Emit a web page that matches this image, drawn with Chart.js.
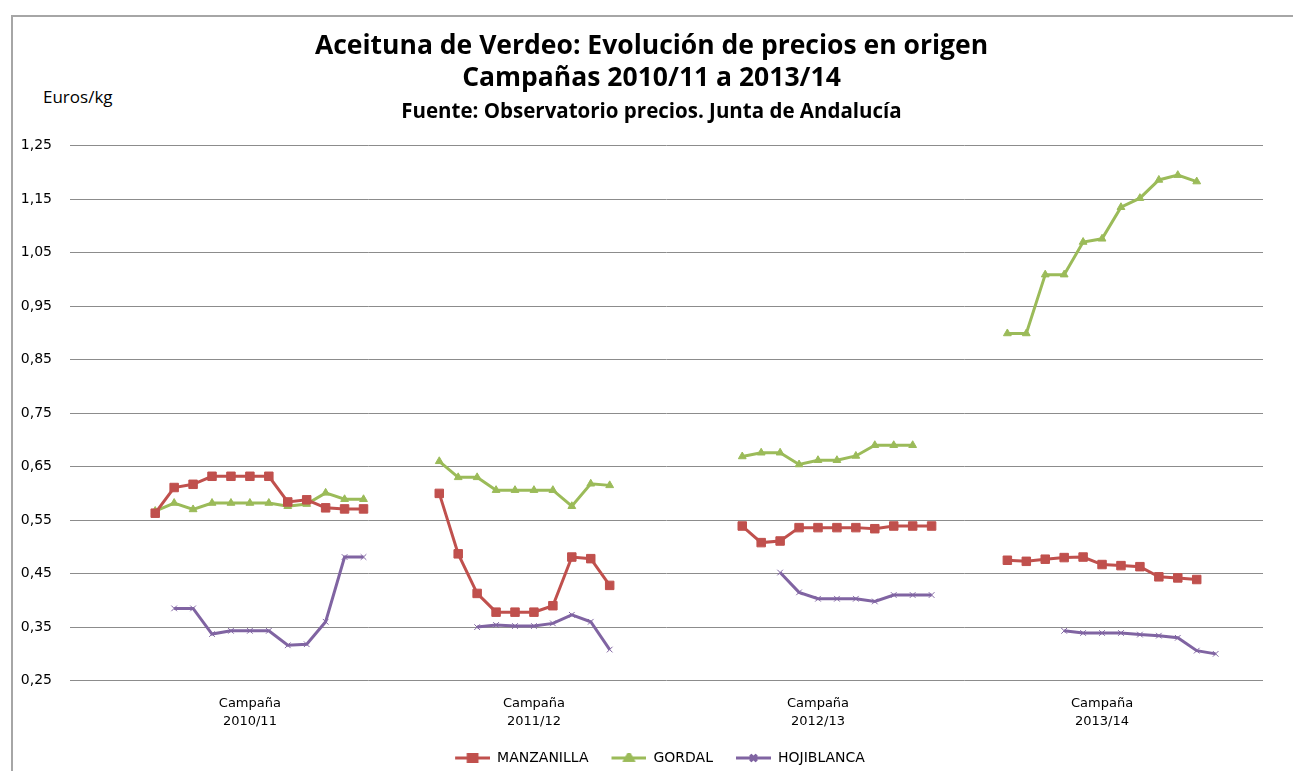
<!DOCTYPE html>
<html>
<head>
<meta charset="utf-8">
<script src="https://cdn.jsdelivr.net/npm/chart.js@4"></script>
<style>
  html, body { margin: 0; padding: 0; background: #fff; }
  #wrap { position: relative; width: 1293px; height: 771px; overflow: hidden; }
  #frame { position: absolute; left: 11px; top: 15px; width: 1400px; height: 800px;
    border-left: 2px solid #a6a6a6; border-top: 2px solid #a6a6a6; box-sizing: border-box; }
  #unit { position: absolute; left: 43px; top: 85px; font: 17px "Open Sans", sans-serif; color: #000; }
  canvas { position: absolute; left: 0; top: 0; }
</style>
</head>
<body>
<div id="wrap">
  <div id="frame"></div>
  <div id="unit">Euros/kg</div>
  <canvas id="chart" width="1293" height="771"></canvas>
</div>
<script>
// 63 weekly slots; each campaign sits in its own block, gaps are null
const campaigns = ["2010/11", "2011/12", "2012/13", "2013/14"];
const campaignSlot = [9, 24, 39, 54];
const slotCount = 63;

const manzanilla = [
  null, null, null, null,
  0.563, 0.611, 0.617, 0.632, 0.632, 0.632, 0.632, 0.584, 0.588, 0.573, 0.571, 0.571,
  null, null, null,
  0.600, 0.487, 0.413, 0.378, 0.378, 0.378, 0.390, 0.481, 0.478, 0.428,
  null, null, null, null, null, null,
  0.539, 0.508, 0.511, 0.536, 0.536, 0.536, 0.536, 0.534, 0.539, 0.539, 0.539,
  null, null, null,
  0.475, 0.473, 0.477, 0.480, 0.481, 0.467, 0.465, 0.463, 0.444, 0.442, 0.439,
  null, null
];

const gordal = [
  null, null, null, null,
  0.567, 0.582, 0.570, 0.582, 0.582, 0.582, 0.582, 0.576, 0.580, 0.601, 0.589, 0.589,
  null, null, null,
  0.660, 0.630, 0.630, 0.606, 0.606, 0.606, 0.606, 0.576, 0.618, 0.615,
  null, null, null, null, null, null,
  0.669, 0.676, 0.676, 0.654, 0.662, 0.662, 0.670, 0.690, 0.690, 0.690, null,
  null, null, null,
  0.899, 0.899, 1.009, 1.009, 1.070, 1.076, 1.135, 1.152, 1.186, 1.195, 1.183,
  null, null
];

const hojiblanca = [
  null, null, null, null,
  null, 0.385, 0.385, 0.337, 0.343, 0.343, 0.343, 0.316, 0.318, 0.360, 0.481, 0.481,
  null, null, null,
  null, null, 0.350, 0.354, 0.352, 0.352, 0.357, 0.373, 0.360, 0.308,
  null, null, null, null, null, null,
  null, null, 0.452, 0.415, 0.403, 0.403, 0.403, 0.398, 0.410, 0.410, 0.410,
  null, null, null,
  null, null, null, 0.343, 0.339, 0.339, 0.339, 0.336, 0.334, 0.330, 0.306, 0.300,
  null, null
];

const yTicks = [0.25, 0.35, 0.45, 0.55, 0.65, 0.75, 0.85, 0.95, 1.05, 1.15, 1.25];

const labels = [];
for (let i = 0; i < slotCount; i++) {
  const c = campaignSlot.indexOf(i);
  labels.push(c >= 0 ? ["Campaña", campaigns[c]] : "");
}

const colors = { manzanilla: "#c0504d", gordal: "#9bbb59", hojiblanca: "#8064a2" };
const legendGap = 17;

// legend symbol: short line with the marker in the middle (transparent gap on the left)
function legendSymbol(color, style) {
  const c = document.createElement("canvas");
  c.width = 35 + legendGap; c.height = 10;
  const ctx = c.getContext("2d");
  ctx.strokeStyle = color; ctx.fillStyle = color; ctx.lineWidth = 3;
  ctx.beginPath(); ctx.moveTo(legendGap, 5); ctx.lineTo(legendGap + 35, 5); ctx.stroke();
  Chart.helpers.drawPoint(ctx, { pointStyle: style, radius: style === "rect" ? 6 : 4.5, borderWidth: 1 }, legendGap + 17.5, 5);
  if (style !== "crossRot") ctx.fill();
  ctx.stroke();
  return c;
}

function series(label, data, color, style, radius) {
  return {
    label: label,
    data: data,
    borderColor: color,
    backgroundColor: color,
    borderWidth: 3,
    pointStyle: style,
    pointRadius: radius,
    pointBorderWidth: 1,
    pointHoverRadius: radius,
    spanGaps: false,
    tension: 0,
  };
}

new Chart(document.getElementById("chart"), {
  type: "line",
  data: {
    labels: labels,
    datasets: [
      series("MANZANILLA", manzanilla, colors.manzanilla, "rect", 6),
      series("GORDAL", gordal, colors.gordal, "triangle", 4.5),
      series("HOJIBLANCA", hojiblanca, colors.hojiblanca, "crossRot", 4),
    ],
  },
  options: {
    responsive: false,
    animation: false,
    layout: { padding: { left: 0, right: -10, top: 0, bottom: -4 } },
    plugins: {
      title: {
        display: true,
        text: ["Aceituna de Verdeo: Evolución de precios en origen", "Campañas 2010/11 a 2013/14"],
        color: "#000",
        font: { family: "Open Sans", size: 26.5, weight: "bold", lineHeight: 1.21 },
        padding: { top: 30, bottom: 6 },
      },
      subtitle: {
        display: true,
        text: "Fuente: Observatorio precios. Junta de Andalucía",
        color: "#000",
        font: { family: "Open Sans", size: 20.5, weight: "bold", lineHeight: 1.2 },
        padding: { top: 0, bottom: 21 },
      },
      legend: {
        position: "bottom",
        labels: {
          usePointStyle: true,
          pointStyleWidth: 35 + legendGap,
          color: "#000",
          font: { family: "DejaVu Sans", size: 14 },
          padding: 6,
          generateLabels: (chart) =>
            chart.data.datasets.map((ds, i) => ({
              text: ds.label,
              pointStyle: legendSymbol(ds.borderColor, ds.pointStyle),
              datasetIndex: i,
              fontColor: "#000",
              lineWidth: 0,
            })),
        },
      },
      tooltip: { enabled: false },
    },
    scales: {
      x: {
        type: "category",
        offset: true,
        grid: { display: false, drawTicks: false },
        border: { display: false },
        ticks: {
          autoSkip: false,
          maxRotation: 0,
          padding: 14,
          color: "#000",
          font: { family: "DejaVu Sans", size: 13, lineHeight: 1.4 },
        },
      },
      y: {
        min: 0.25,
        max: 1.25,
        afterFit: (scale) => { scale.width = 70; },
        afterBuildTicks: (scale) => { scale.ticks = yTicks.map((v) => ({ value: v })); },
        grid: { color: "#8c8c8c", lineWidth: 1, drawTicks: false },
        border: { display: false },
        ticks: {
          padding: 18,
          color: "#000",
          font: { family: "DejaVu Sans", size: 14 },
          callback: (value) => value.toFixed(2).replace(".", ","),
        },
      },
      // empty right-hand margin so the legend centres like the original
      yRight: {
        position: "right",
        afterFit: (scale) => { scale.width = 40; },
        grid: { display: false, drawTicks: false },
        border: { display: false },
        ticks: { display: false },
      },
    },
  },
});
</script>
</body>
</html>
